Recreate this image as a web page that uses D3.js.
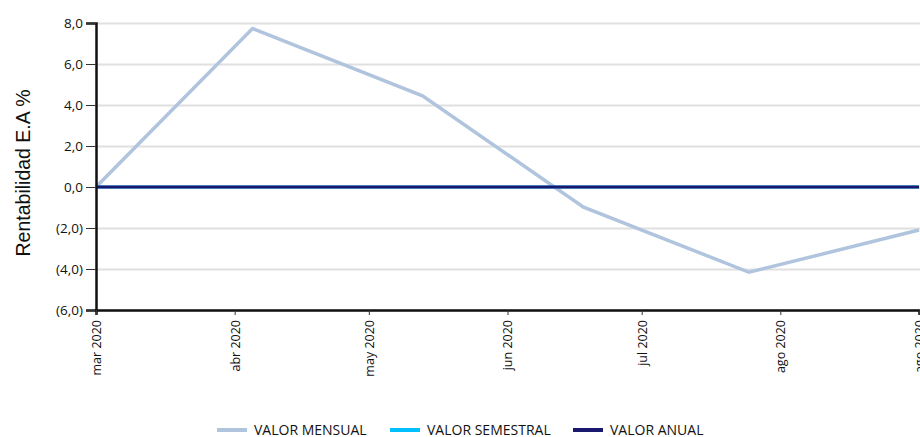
<!DOCTYPE html>
<html>
<head>
<meta charset="utf-8">
<script src="https://cdn.jsdelivr.net/npm/d3@7"></script>
<style>
  body { margin: 0; background: #fff; }
  .grid line { stroke: #e0e0e0; stroke-width: 2; }
  .grid path { display: none; }
</style>
</head>
<body>
<div id="content"></div>
<script>
// fechas de los puntos (serie mensual)
var fechas = ['2020-03-01', '2020-04-05', '2020-05-13', '2020-06-18', '2020-07-25', '2020-09-01'];
var valorMensual = [0.0, 7.73, 4.45, -0.98, -4.16, -2.1];
var valorSemestral = [0, 0, 0, 0, 0, 0];
var valorAnual = [0, 0, 0, 0, 0, 0];

var xTicks = ['2020-03-01', '2020-04-01', '2020-05-01', '2020-06-01', '2020-07-01', '2020-08-01', '2020-09-01'];
var xTickLabels = ['mar 2020', 'abr 2020', 'may 2020', 'jun 2020', 'jul 2020', 'ago 2020', 'ago 2020'];
var yTicks = [8, 6, 4, 2, 0, -2, -4, -6];

var series = [
  { name: 'VALOR MENSUAL', color: '#b0c4de', values: valorMensual },
  { name: 'VALOR SEMESTRAL', color: '#00bfff', values: valorSemestral },
  { name: 'VALOR ANUAL', color: '#191970', values: valorAnual }
];

var width = 920, height = 437;
var margin = { top: 23, right: 1, bottom: 127, left: 96 };

var parse = d3.timeParse('%Y-%m-%d');

var svg = d3.select('#content').append('svg')
  .attr('width', width)
  .attr('height', height);

var x = d3.scaleTime()
  .domain([parse(xTicks[0]), parse(xTicks[xTicks.length - 1])])
  .range([margin.left, width - margin.right]);

var y = d3.scaleLinear()
  .domain([-6, 8])
  .range([height - margin.bottom, margin.top]);

// grid
svg.append('g')
  .attr('class', 'grid')
  .attr('transform', 'translate(' + margin.left + ',0)')
  .call(d3.axisLeft(y).tickValues(yTicks).tickSize(-(width - margin.left)).tickFormat(''));

function fmt(v) {
  var s = Math.abs(v).toFixed(1).replace('.', ',');
  return v < 0 ? '(' + s + ')' : s;
}

// series
var line = d3.line()
  .x(function(d) { return x(d.date); })
  .y(function(d) { return y(d.value); });

series.forEach(function(s) {
  var pts = fechas.map(function(f, i) { return { date: parse(f), value: s.values[i] }; });
  svg.append('path')
    .datum(pts)
    .attr('fill', 'none')
    .attr('stroke', s.color)
    .attr('stroke-width', s.name === 'VALOR MENSUAL' ? 3.5 : 3)
    .attr('d', line);
});

// axes
var yAxis = svg.append('g')
  .attr('transform', 'translate(' + margin.left + ',0)')
  .call(d3.axisLeft(y).tickValues(yTicks).tickFormat(fmt).tickSizeOuter(0).tickSize(10));
yAxis.select('.domain').attr('stroke', '#111').attr('stroke-width', 2.5);
yAxis.selectAll('.tick line').attr('stroke', '#333');
yAxis.selectAll('.tick text')
  .attr('x', -13)
  .style('font-family', '"Open Sans", sans-serif')
  .style('font-size', '13.5px')
  .style('fill', '#111');

var xAxis = svg.append('g')
  .attr('transform', 'translate(0,' + (height - margin.bottom) + ')')
  .call(d3.axisBottom(x)
    .tickValues(xTicks.map(parse))
    .tickFormat(function(d, i) { return xTickLabels[i]; })
    .tickSizeOuter(0).tickSize(5));
xAxis.select('.domain').attr('stroke', '#111').attr('stroke-width', 2.5);
xAxis.selectAll('.tick line').attr('stroke', '#333');
xAxis.selectAll('.tick text')
  .attr('transform', 'rotate(-90)')
  .attr('text-anchor', 'end')
  .attr('x', -10)
  .attr('y', 0)
  .attr('dy', '0.35em')
  .style('font-family', '"Open Sans", sans-serif')
  .style('font-size', '12.5px')
  .style('fill', '#111');

// y label
svg.append('text')
  .attr('transform', 'translate(30,' + 173 + ') rotate(-90)')
  .attr('text-anchor', 'middle')
  .style('font-family', '"Liberation Sans", Arial, sans-serif')
  .style('font-size', '19.5px')
  .style('fill', '#111')
  .text('Rentabilidad E.A %');

// legend
var legendX = [217, 390, 573];
var legend = svg.append('g');
series.forEach(function(s, i) {
  var g = legend.append('g').attr('transform', 'translate(' + legendX[i] + ',430)');
  g.append('line')
    .attr('x1', 0).attr('x2', 30)
    .attr('stroke', s.color).attr('stroke-width', 4);
  g.append('text')
    .attr('x', 37).attr('dy', '0.35em')
    .style('font-family', '"Open Sans", sans-serif')
    .style('font-size', '14px')
    .style('fill', '#111')
    .text(s.name);
});
</script>
</body>
</html>
